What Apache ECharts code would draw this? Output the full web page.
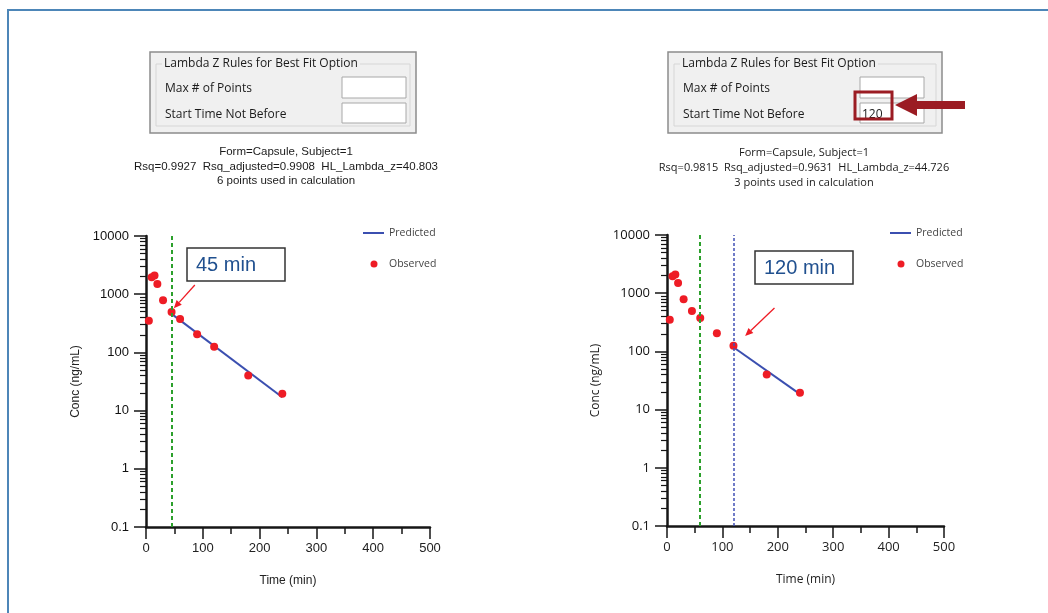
<!DOCTYPE html>
<html><head><meta charset="utf-8">
<script src="https://cdn.jsdelivr.net/npm/echarts@6/dist/echarts.min.js"></script>
<style>
html,body{margin:0;padding:0;background:#fff}
#wrap{position:relative;width:1048px;height:613px;overflow:hidden}
.layer{position:absolute;top:0;height:613px}
</style>
</head><body><div id="wrap">
<div id="pl" class="layer" style="left:0;width:524px;z-index:0"></div>
<div id="pr" class="layer" style="left:524px;width:524px;z-index:0"></div>
<div id="deco" class="layer" style="left:0;width:1048px;z-index:1;pointer-events:none"></div>
</div>
<script>
// ---- data ----
const times = [5, 10, 15, 20, 30, 45, 60, 90, 120, 180, 240];
const conc = [350, 1950, 2100, 1500, 790, 495, 375, 205, 125, 40, 19.5];
const predLeft = [[45, 460], [240, 17]];
const predRight = [[120, 118], [240, 18.4]];
const startLeft = [45];
const startRight = [60, 120];
const arrowLeft = [[86, 1440], [49, 573]];
const arrowRight = [[194, 557], [141, 184]];
const xTicks = [0, 100, 200, 300, 400, 500];
const yTicks = ['0.1', '1', '10', '100', '1000', '10000'];
const legendNames = ['Predicted', 'Observed'];
const statsLeft = ['Form=Capsule, Subject=1', 'Rsq=0.9927  Rsq_adjusted=0.9908  HL_Lambda_z=40.803', '6 points used in calculation'];
const statsRight = ['Form=Capsule, Subject=1', 'Rsq=0.9815  Rsq_adjusted=0.9631  HL_Lambda_z=44.726', '3 points used in calculation'];
const dialogTitle = 'Lambda Z Rules for Best Fit Option';
const dialogLabels = ['Max # of Points', 'Start Time Not Before'];
const rightStartValue = '120';
const boxLeft = '45 min';
const boxRight = '120 min';

const FL = 'Liberation Sans, Arial, sans-serif';
const FR = 'Open Sans, sans-serif';
const pts = times.map((t, i) => [t, conc[i]]);
const obsColor = '#ee1c25';
const predColor = '#3b4fb0';
const axisColor = '#161616';

function xAxis(font) {
  return { type: 'value', gridIndex: 0, min: 0, max: 500, interval: 100,
    axisLine: { onZero: false, lineStyle: { color: axisColor, width: 2.5 } },
    axisTick: { length: 12, lineStyle: { color: axisColor, width: 1.5 } },
    minorTick: { show: true, splitNumber: 2, length: 7, lineStyle: { color: axisColor, width: 1.5 } },
    splitLine: { show: false },
    axisLabel: { margin: 15, color: '#222', fontSize: 13, fontFamily: font, formatter: v => String(xTicks.find(t => t === v) ?? v) },
    name: 'Time (min)', nameLocation: 'middle', nameGap: 48, nameTextStyle: { color: '#222', fontSize: 12, fontFamily: font } };
}
function yAxis(font) {
  return { type: 'log', logBase: 10, gridIndex: 0, min: 0.1, max: 10000, splitNumber: 5,
    axisLine: { show: true, onZero: false, lineStyle: { color: axisColor, width: 2.5 } },
    axisTick: { show: true, length: 12, lineStyle: { color: axisColor, width: 1.5 } },
    minorTick: { show: true, splitNumber: 9, length: 6, lineStyle: { color: axisColor, width: 1.2 } },
    splitLine: { show: false }, minorSplitLine: { show: false },
    axisLabel: { margin: 17, color: '#111', fontSize: 13, fontFamily: font, formatter: v => yTicks[Math.round(Math.log10(v)) + 1] },
    name: 'Conc (ng/mL)', nameLocation: 'middle', nameGap: 50, nameTextStyle: { color: '#222', fontSize: 12, fontFamily: font } };
}
function panelOption(font, grid, pred, starts) {
  return {
    animation: false, backgroundColor: '#fff',
    grid: [grid],
    xAxis: [xAxis(font)], yAxis: [yAxis(font)],
    series: [
      { name: 'Predicted', type: 'line', data: pred, symbol: 'none', lineStyle: { color: predColor, width: 2 }, z: 3 },
      { name: 'Observed', type: 'scatter', data: pts, symbolSize: 8, itemStyle: { color: obsColor, opacity: 1 }, z: 4,
        markLine: { silent: true, symbol: ['none', 'none'], label: { show: false },
          data: starts.map((v, k) => ({ xAxis: v, lineStyle: k === 0
            ? { color: '#2ca02c', type: [4, 3], width: 2 }
            : { color: '#4150b5', type: [3, 2], width: 1.5 } })) } }
    ]
  };
}

const chartL = echarts.init(document.getElementById('pl'), null, { renderer: 'canvas' });
chartL.setOption(panelOption(FL, { left: 146, top: 236, width: 284, height: 291 }, predLeft, startLeft));
const chartR = echarts.init(document.getElementById('pr'), null, { renderer: 'canvas' });
chartR.setOption(panelOption(FR, { left: 143, top: 235, width: 277, height: 291 }, predRight, startRight));

// ---- decoration layer (on top, transparent) ----
function dialog(x, y, w, h, font, value) {
  const els = [
    { type: 'rect', shape: { x, y, width: w, height: h }, style: { fill: '#f0f0f0', stroke: '#8c8c8c', lineWidth: 1.5 } },
    { type: 'rect', shape: { x: x + 6, y: y + 12, width: w - 12, height: h - 19 }, style: { fill: 'none', stroke: '#d6d6d6', lineWidth: 1 } },
    { type: 'text', style: { x: x + 12, y: y + 12, text: dialogTitle, font: '12px ' + font, fill: '#1a1a1a',
      verticalAlign: 'middle', backgroundColor: '#f0f0f0', padding: [0, 2] } },
    { type: 'text', style: { x: x + 15, y: y + 37, text: dialogLabels[0], font: '12px ' + font, fill: '#1a1a1a', verticalAlign: 'middle' } },
    { type: 'text', style: { x: x + 15, y: y + 63, text: dialogLabels[1], font: '12px ' + font, fill: '#1a1a1a', verticalAlign: 'middle' } },
    { type: 'rect', shape: { x: x + 192, y: y + 25, width: 64, height: 21 }, style: { fill: '#fff', stroke: '#a8a8a8', lineWidth: 1 } },
    { type: 'rect', shape: { x: x + 192, y: y + 51, width: 64, height: 20 }, style: { fill: '#fff', stroke: '#a8a8a8', lineWidth: 1 } }
  ];
  if (value) els.push({ type: 'text', style: { x: x + 194, y: y + 63, text: value, font: '12px ' + font, fill: '#1a1a1a', verticalAlign: 'middle' } });
  return els;
}
function stats(cx, lines, font, size, ys) {
  return lines.map((t, k) => ({ type: 'text', style: { x: cx, y: ys[k], text: t, font: size + 'px ' + font,
    fill: '#1a1a1a', align: 'center', verticalAlign: 'middle' } }));
}
function annot(x, y, text, font) {
  return [
    { type: 'rect', shape: { x, y, width: 98, height: 33 }, style: { fill: '#fff', stroke: '#333', lineWidth: 1.5 } },
    { type: 'text', style: { x: x + 9, y: y + 17, text, font: '20px ' + font, fill: '#20508f', verticalAlign: 'middle' } }
  ];
}
function legendEls(x, y) {
  return [
    { type: 'line', shape: { x1: x, y1: y, x2: x + 21, y2: y }, style: { stroke: predColor, lineWidth: 2 } },
    { type: 'text', style: { x: x + 26, y, text: legendNames[0], font: '10.5px ' + FR, fill: '#444', verticalAlign: 'middle' } },
    { type: 'circle', shape: { cx: x + 11, cy: y + 31, r: 3.5 }, style: { fill: obsColor } },
    { type: 'text', style: { x: x + 26, y: y + 31, text: legendNames[1], font: '10.5px ' + FR, fill: '#444', verticalAlign: 'middle' } }
  ];
}
function arrowEls(chart, pair, dx) {
  const a = chart.convertToPixel({ gridIndex: 0 }, pair[0]);
  const b = chart.convertToPixel({ gridIndex: 0 }, pair[1]);
  if (!a || !b) return [];
  const ax = a[0] + dx, ay = a[1], bx = b[0] + dx, by = b[1];
  const len = Math.hypot(bx - ax, by - ay) || 1;
  const ux = (bx - ax) / len, uy = (by - ay) / len;
  const hl = 8, hw = 3.5;
  const baseX = bx - ux * hl, baseY = by - uy * hl;
  return [
    { type: 'line', shape: { x1: ax, y1: ay, x2: baseX, y2: baseY }, style: { stroke: obsColor, lineWidth: 1.3 } },
    { type: 'polygon', shape: { points: [[bx, by], [baseX - uy * hw, baseY + ux * hw], [baseX + uy * hw, baseY - ux * hw]] },
      style: { fill: obsColor } }
  ];
}

const graphics = [].concat(
  [{ type: 'rect', shape: { x: 8, y: 10, width: 1100, height: 700 }, style: { fill: 'none', stroke: '#4d86b8', lineWidth: 2 } }],
  dialog(150, 52, 266, 81, FR, null),
  dialog(668, 52, 274, 81, FR, rightStartValue),
  [
    { type: 'rect', shape: { x: 855, y: 92, width: 37, height: 27 }, style: { fill: 'none', stroke: '#9b1c23', lineWidth: 3 } },
    { type: 'polygon', shape: { points: [[895, 105], [917, 94], [917, 101], [965, 101], [965, 109], [917, 109], [917, 116]] },
      style: { fill: '#9b1c23' } }
  ],
  stats(286, statsLeft, FL, 11.5, [152, 167, 181]),
  stats(804, statsRight, FR, 11, [153, 168, 183]),
  annot(187, 248, boxLeft, FL),
  annot(755, 251, boxRight, FL),
  legendEls(363, 233),
  legendEls(890, 233),
  arrowEls(chartL, arrowLeft, 0),
  arrowEls(chartR, arrowRight, 524)
);

const deco = echarts.init(document.getElementById('deco'), null, { renderer: 'canvas' });
deco.setOption({ animation: false, backgroundColor: 'transparent', graphic: graphics });
</script></body></html>
